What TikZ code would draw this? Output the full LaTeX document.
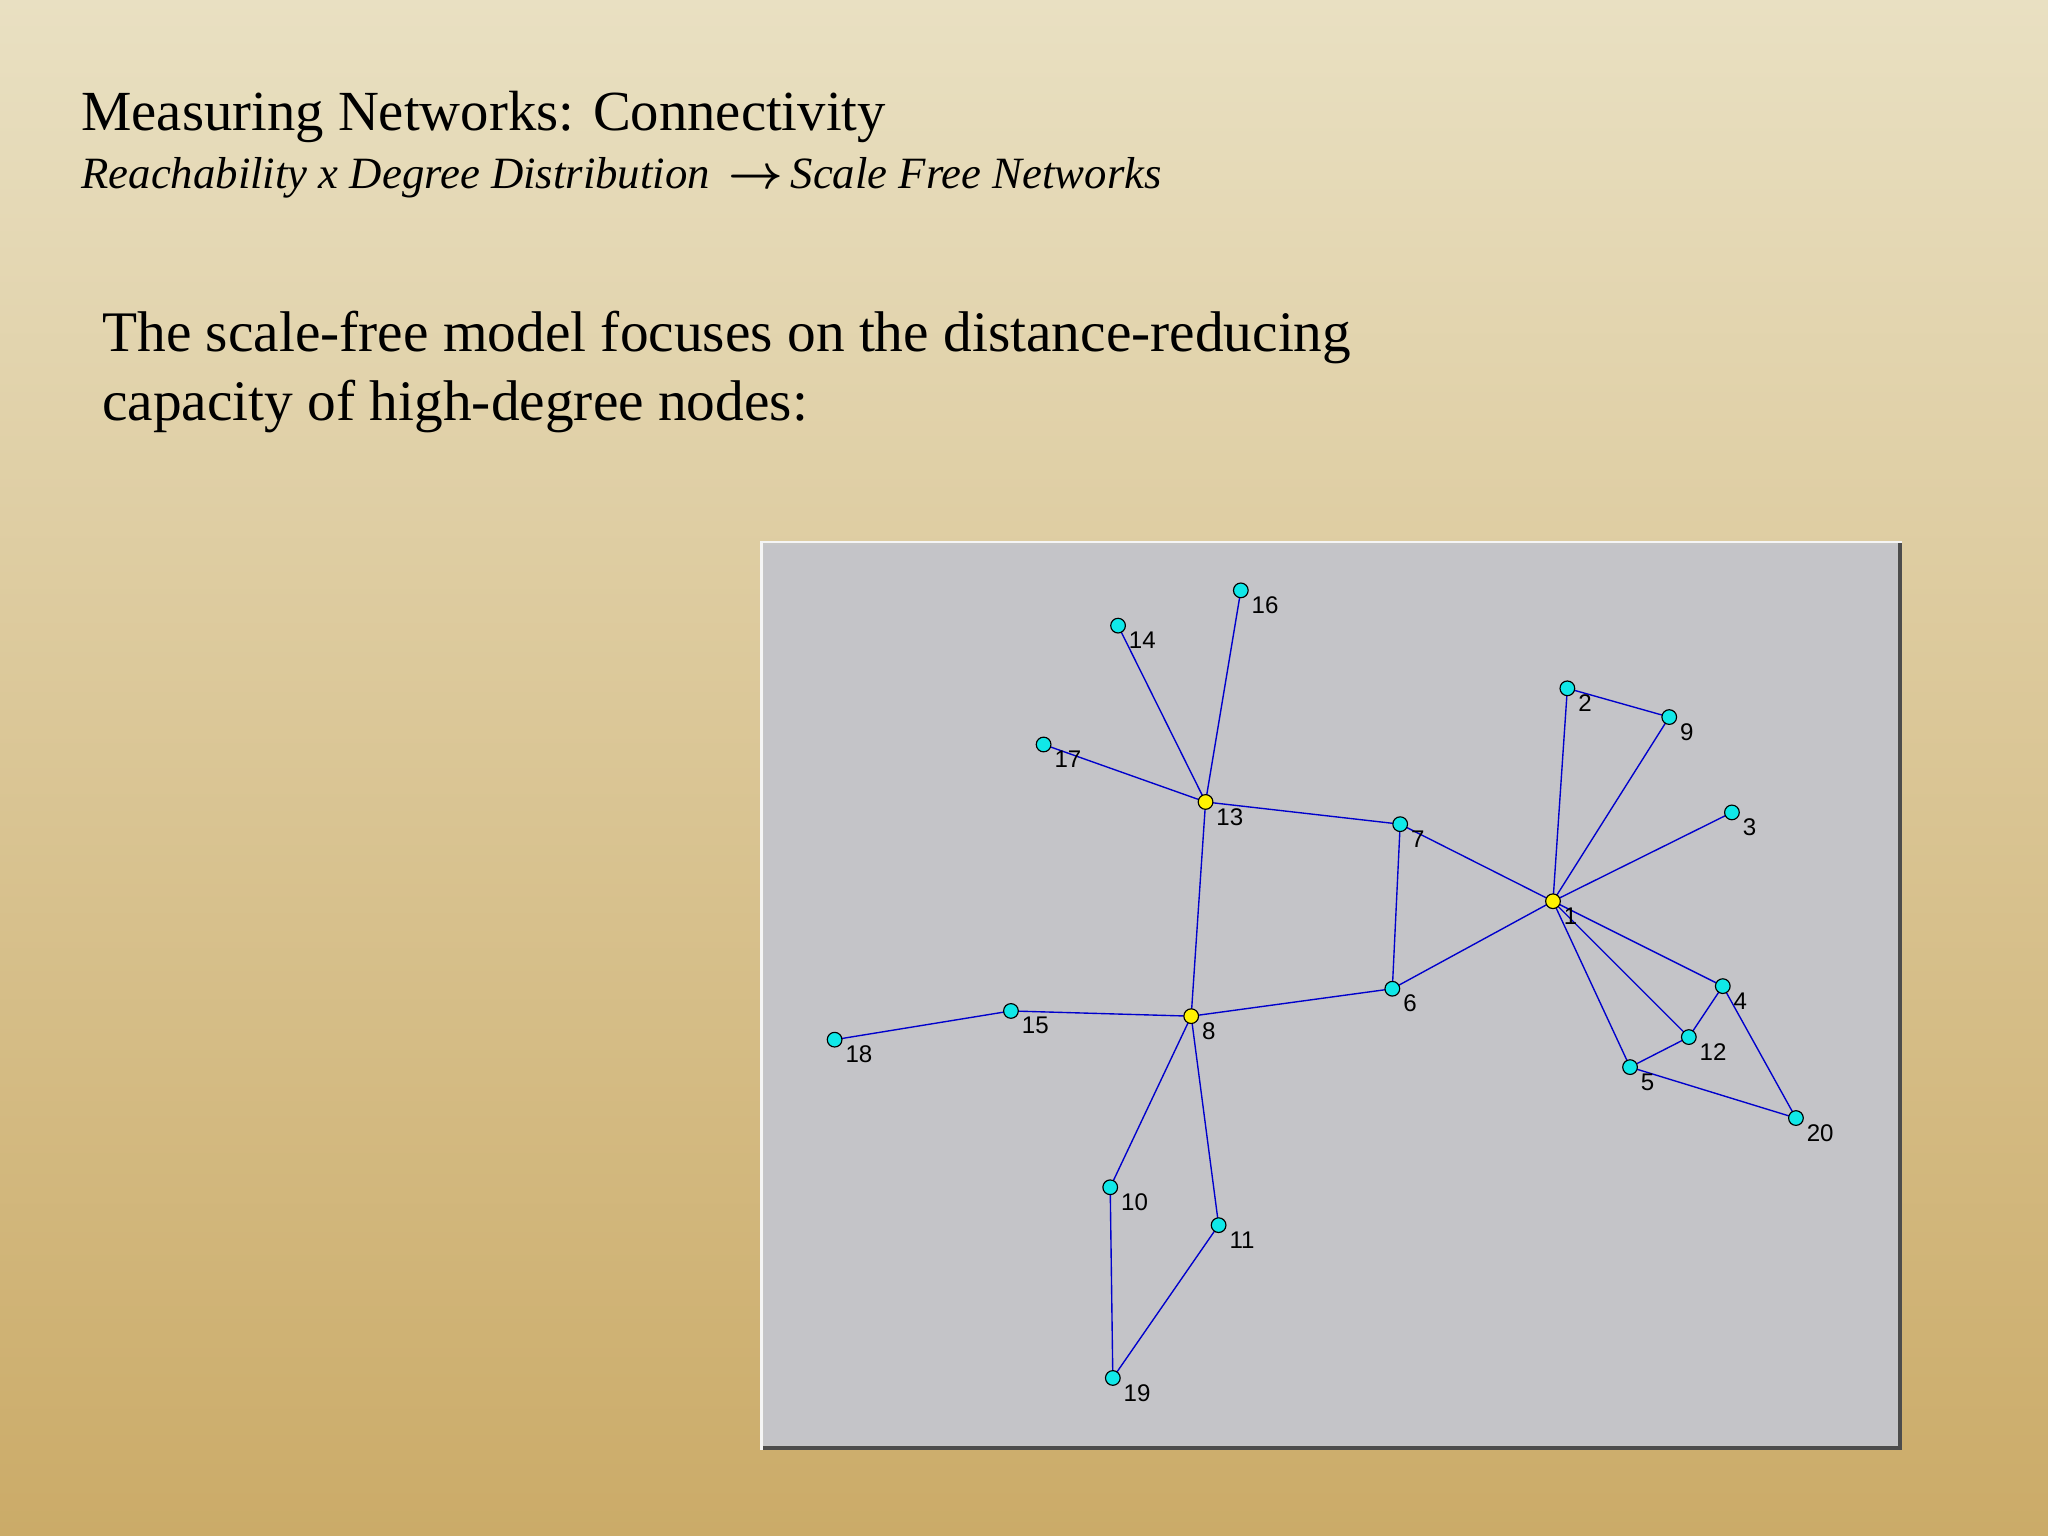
\documentclass[tikz,border=0pt]{standalone}
\usepackage{amsmath}
\usepackage{fontspec}
\setmainfont{Liberation Serif}
\newfontfamily\lblfont{Liberation Sans}
\begin{document}
\begin{tikzpicture}[x=0.02cm,y=-0.02cm,
  nd/.style={circle,draw=black,line width=0.5pt,fill=nodecyan,inner sep=0pt,minimum size=6.4pt},
  hub/.style={nd,fill=yellow},
  lbl/.style={font=\lblfont\fontsize{10.5}{11}\selectfont,inner sep=0pt,anchor=north west},
  ed/.style={draw=blue!80!black,line width=0.6pt}]
\definecolor{bgtop}{HTML}{E9E0C2}
\definecolor{bgbot}{HTML}{CBAB68}
\definecolor{panel}{HTML}{C4C4C8}
\definecolor{nodecyan}{HTML}{10E8E8}
\useasboundingbox (0,0) rectangle (1568,1176);
\shade[top color=bgtop,bottom color=bgbot] (0,0) rectangle (1568,1176);
\node[anchor=base west,inner sep=0pt,font=\fontsize{24.7}{28}\selectfont] (title) at (62,100) {Measuring Networks: Connectivity};
\node[anchor=base west,inner sep=0pt,font=\fontsize{19.5}{22}\selectfont\itshape] (sub) at (62,144) {Reachability x Degree Distribution \,{\upshape$\boldsymbol{\rightarrow}$}\,Scale Free Networks};
\node[anchor=base west,inner sep=0pt,font=\fontsize{25}{30}\selectfont,align=left] (body) at (78,322) {The scale-free model focuses on the distance-reducing\\capacity of high-degree nodes:};
% panel
\fill[white!92!gray] (582,414) rectangle (1456,1110);
\fill[black!70] (584,416) rectangle (1456,1110);
\fill[gray!45] (584,416) rectangle (1453,1107);
\fill[panel] (585,417) rectangle (1452,1106);
\foreach \n/\x/\y in {1/1189/690,2/1200/527,3/1326/622,4/1319/755,5/1248/817,6/1066/757,7/1072/631,8/912/778,9/1278/549,10/850/909,11/933/938,12/1293/794,13/923/614,14/856/479,15/774/774,16/950/452,17/799/570,18/639/796,19/852/1055,20/1375/856}
  \coordinate (c\n) at (\x,\y);
\foreach \a/\b in {2/9,2/1,9/1,3/1,7/1,6/1,1/4,1/12,1/5,4/12,4/20,12/5,5/20,13/14,13/16,13/17,13/7,13/8,7/6,8/6,8/15,15/18,8/10,8/11,10/19,11/19}
  \draw[ed] (c\a) -- (c\b);
\foreach \n/\s in {1/hub,2/nd,3/nd,4/nd,5/nd,6/nd,7/nd,8/hub,9/nd,10/nd,11/nd,12/nd,13/hub,14/nd,15/nd,16/nd,17/nd,18/nd,19/nd,20/nd}{
  \node[\s] (n\n) at (c\n) {};
  \node[lbl] (l\n) at ([xshift=0.16cm,yshift=-0.09cm]c\n) {\n};
}
\end{tikzpicture}
\end{document}
